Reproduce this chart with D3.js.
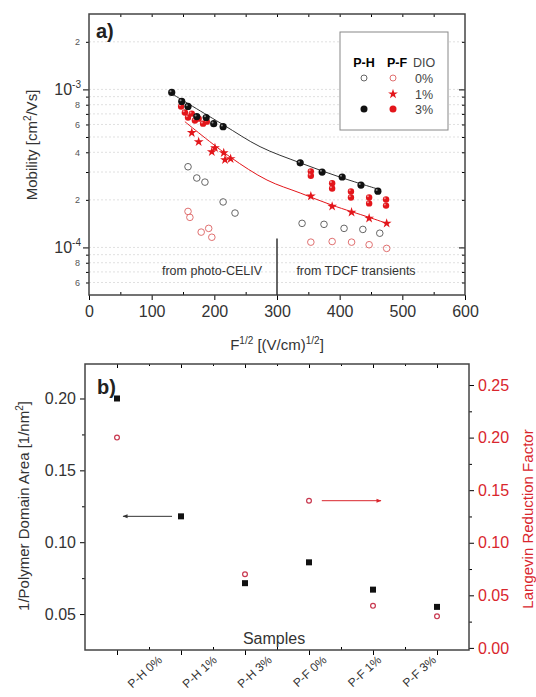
<!DOCTYPE html>
<html>
<head>
<meta charset="utf-8">
<title>Mobility and domain area</title>
<script src="https://cdn.jsdelivr.net/npm/d3@7"></script>
<style>
body{margin:0;background:#fff}
text{font-family:"Liberation Sans",Arial,sans-serif}
</style>
</head>
<body>
<script>
// ---- panel a data: F^1/2 [(V/cm)^1/2] and mobility [cm2/Vs]
let phH3F  = [132,148,158,172,187,199,214,337,372,404,434,461]
let phH3Mu = [9.57e-4,8.39e-4,7.8e-4,6.73e-4,6.64e-4,6.07e-4,5.81e-4,3.43e-4,3.0e-4,2.79e-4,2.48e-4,2.27e-4]
let pF3F   = [147,153,158,164,169,175,182,188,354,354,388,388,418,418,447,447,474,474]
let pF3Mu  = [7.8e-4,7.14e-4,6.64e-4,7.03e-4,6.35e-4,6.53e-4,6.07e-4,6.25e-4,3.03e-4,2.84e-4,2.55e-4,2.36e-4,2.26e-4,2.07e-4,2.07e-4,1.9e-4,2.01e-4,1.84e-4]
let pF1F   = [164,175,196,201,215,217,226,354,388,419,447,475]
let pF1Mu  = [5.32e-4,4.66e-4,4.03e-4,4.27e-4,3.97e-4,3.58e-4,3.64e-4,2.11e-4,1.82e-4,1.67e-4,1.53e-4,1.42e-4]
let pH0F   = [158,172,185,214,233,340,375,407,437,464]
let pH0Mu  = [3.24e-4,2.75e-4,2.59e-4,1.94e-4,1.65e-4,1.42e-4,1.40e-4,1.32e-4,1.30e-4,1.23e-4]
let pF0F   = [158,161,179,191,196,354,388,419,447,475]
let pF0Mu  = [1.69e-4,1.55e-4,1.25e-4,1.32e-4,1.16e-4,1.08e-4,1.09e-4,1.08e-4,1.04e-4,0.986e-4]
// fit curves
let fitHF  = [134,214,273,337,400,461]
let fitHMu = [9.29e-4,5.98e-4,4.34e-4,3.43e-4,2.79e-4,2.34e-4]
let fitFF  = [153,225,284,337,388,447,475]
let fitFMu = [6.25e-4,3.74e-4,2.67e-4,2.21e-4,1.85e-4,1.55e-4,1.42e-4]
let xTicksA = [0,100,200,300,400,500,600]
let logTicks = [6e-5,7e-5,8e-5,9e-5,1e-4,2e-4,3e-4,4e-4,5e-4,6e-4,7e-4,8e-4,9e-4,1e-3,2e-3]

// ---- panel b data
let samples   = ["P-H 0%","P-H 1%","P-H 3%","P-F 0%","P-F 1%","P-F 3%"]
let sampleX   = [1,3,5,7,9,11]
let invArea   = [0.200,0.118,0.0715,0.086,0.067,0.055]
let langevinS = ["P-H 0%","P-H 3%","P-F 0%","P-F 1%","P-F 3%"]
let langevin  = [0.200,0.070,0.140,0.040,0.030]
let leftTicksB  = [0.05,0.10,0.15,0.20]
let rightTicksB = [0.00,0.05,0.10,0.15,0.20,0.25]

let w = 536, h = 697
let svg = d3.select("body").append("svg").attr("width",w).attr("height",h)

// ================= panel a =================
let xA = d3.scaleLinear().domain([0,600]).range([89,465])
let yA = d3.scaleLog().domain([5e-5,3e-3]).range([295,14])
let red = "#e3161b"

// grid
svg.selectAll("line.grid").data(logTicks).enter().append("line")
    .attr("x1",xA(0)).attr("x2",xA(600))
    .attr("y1",d=>yA(d)).attr("y2",d=>yA(d))
    .attr("stroke","#e0e0e0").attr("stroke-dasharray","2,2")

// axes
let gxA = svg.append("g").attr("transform","translate(0,295)")
    .call(d3.axisBottom(xA).tickValues(xTicksA).tickSize(5).tickPadding(6))
gxA.selectAll("text").attr("font-size",16).attr("fill","#333")
svg.append("g").attr("transform","translate(0,295)")
    .call(d3.axisBottom(xA).tickValues([50,150,250,350,450,550]).tickSize(-3).tickFormat(""))
svg.append("g").attr("transform","translate(0,14)")
    .call(d3.axisTop(xA).tickValues(d3.range(50,600,50)).tickSize(-3).tickFormat(""))

let gyA = svg.append("g").attr("transform","translate(89,0)")
    .call(d3.axisLeft(yA).tickValues(logTicks)
        .tickFormat(d=>{
            let m = Math.round(d/Math.pow(10,Math.floor(Math.log10(d)+1e-9)))
            return (m==2||m==4||m==6||m==8) ? m : ""
        }).tickPadding(3))
gyA.selectAll(".tick line").attr("x2",d=>(d==1e-3||d==1e-4)?-6:-3)
gyA.selectAll("text").attr("font-size",9).attr("fill","#555")
;[1e-3,1e-4].forEach(v=>{
    let t = svg.append("text").attr("x",81).attr("y",yA(v)+6)
        .attr("text-anchor","end").attr("font-size",16).attr("fill","#333")
    t.append("tspan").text("10")
    t.append("tspan").attr("font-size",10).attr("dy",-7).text(v==1e-3?"-3":"-4")
})
svg.append("g").attr("transform","translate(465,0)")
    .call(d3.axisRight(yA).tickValues(logTicks).tickSize(-3).tickFormat(""))
    .selectAll(".tick line").attr("x2",d=>(d==1e-3||d==1e-4)?-6:-3)
svg.selectAll(".domain").remove()
svg.append("rect").attr("x",89).attr("y",14).attr("width",376).attr("height",281)
    .attr("fill","none").attr("stroke","#444").attr("stroke-width",1.5)

// labels
svg.append("text").attr("transform","translate(37,145) rotate(-90)")
    .attr("text-anchor","middle").attr("font-size",15).attr("fill","#333")
    .html('Mobility [cm<tspan dy="-6" font-size="10">2</tspan><tspan dy="6">/Vs]</tspan>')
svg.append("text").attr("x",277).attr("y",350).attr("text-anchor","middle")
    .attr("font-size",15).attr("fill","#333")
    .html('F<tspan dy="-6" font-size="10">1/2</tspan><tspan dy="6"> [(V/cm)</tspan><tspan dy="-6" font-size="10">1/2</tspan><tspan dy="6">]</tspan>')
svg.append("text").attr("x",96).attr("y",38).attr("font-size",20)
    .attr("font-weight","bold").attr("fill","#222").text("a)")

// divider and region labels
svg.append("line").attr("x1",xA(300)).attr("x2",xA(300))
    .attr("y1",yA(1.14e-4)).attr("y2",yA(5e-5)).attr("stroke","#333").attr("stroke-width",1.5)
svg.append("text").attr("x",212).attr("y",275).attr("text-anchor","middle")
    .attr("font-size",12.5).attr("fill","#333").text("from photo-CELIV")
svg.append("text").attr("x",356).attr("y",275).attr("text-anchor","middle")
    .attr("font-size",12.5).attr("fill","#333").text("from TDCF transients")

// fit lines
let lineA = d3.line().curve(d3.curveCatmullRom).x(d=>xA(d[0])).y(d=>yA(d[1]))
svg.append("path").attr("d",lineA(d3.zip(fitHF,fitHMu)))
    .attr("fill","none").attr("stroke","#333").attr("stroke-width",1)
svg.append("path").attr("d",lineA(d3.zip(fitFF,fitFMu)))
    .attr("fill","none").attr("stroke",red).attr("stroke-width",1)

// marker helpers
function openCircles(F,M,col){
    svg.append("g").selectAll("circle").data(d3.zip(F,M)).enter().append("circle")
        .attr("cx",d=>xA(d[0])).attr("cy",d=>yA(d[1])).attr("r",3.3)
        .attr("fill","none").attr("stroke",col).attr("stroke-width",1)
}
function balls(F,M,col,r){
    let g = svg.append("g").selectAll("g").data(d3.zip(F,M)).enter().append("g")
        .attr("transform",d=>"translate("+xA(d[0])+","+yA(d[1])+")")
    g.append("circle").attr("r",r).attr("fill",col)
    g.append("circle").attr("r",1).attr("cx",-1.2).attr("cy",-1.2).attr("fill","#fff").attr("opacity",0.5)
}
let star = d3.symbol(d3.symbolStar).size(30)
function stars(F,M){
    svg.append("g").selectAll("path").data(d3.zip(F,M)).enter().append("path")
        .attr("d",star).attr("fill",red)
        .attr("transform",d=>"translate("+xA(d[0])+","+yA(d[1])+")")
}
openCircles(pH0F,pH0Mu,"#666")
openCircles(pF0F,pF0Mu,"#e07070")
stars(pF1F,pF1Mu)
balls(pF3F,pF3Mu,red,3.2)
balls(phH3F,phH3Mu,"#111",3.6)

// legend
svg.append("rect").attr("x",340).attr("y",32).attr("width",108).attr("height",98)
    .attr("fill","#fff").attr("stroke","#888").attr("stroke-width",1)
let lg = svg.append("g")
lg.append("text").attr("x",364).attr("y",67).attr("text-anchor","middle")
    .attr("font-size",12.5).attr("font-weight","bold").text("P-H")
lg.append("text").attr("x",397).attr("y",67).attr("text-anchor","middle")
    .attr("font-size",12.5).attr("font-weight","bold").text("P-F")
lg.append("text").attr("x",424).attr("y",67).attr("text-anchor","middle")
    .attr("font-size",12.5).attr("fill","#444").text("DIO")
;["0%","1%","3%"].forEach((t,i)=>{
    lg.append("text").attr("x",415).attr("y",[83,99,114][i])
        .attr("font-size",12.5).attr("fill","#444").text(t)
})
lg.append("circle").attr("cx",364).attr("cy",78).attr("r",3).attr("fill","none").attr("stroke","#666")
lg.append("circle").attr("cx",393).attr("cy",78).attr("r",3).attr("fill","none").attr("stroke","#e07070")
lg.append("path").attr("d",star).attr("fill",red).attr("transform","translate(393,94)")
lg.append("circle").attr("cx",364).attr("cy",109).attr("r",3.5).attr("fill","#111")
lg.append("circle").attr("cx",393).attr("cy",109).attr("r",3.5).attr("fill",red)

// ================= panel b =================
let xB  = d3.scaleLinear().domain([0,12]).range([85,469])
let yBL = d3.scaleLinear().domain([0.025,0.224]).range([650,364])
let yBR = d3.scaleLinear().domain([-0.002,0.27]).range([650,364])
let redB = "#d9262d"

let gl = svg.append("g").attr("transform","translate(85,0)")
    .call(d3.axisLeft(yBL).tickValues(leftTicksB).tickFormat(d3.format(".2f")).tickSize(5).tickPadding(4))
gl.selectAll("text").attr("font-size",16).attr("fill","#333")
svg.append("g").attr("transform","translate(85,0)")
    .call(d3.axisLeft(yBL).tickValues([0.075,0.125,0.175]).tickSize(3).tickFormat(""))
let gr = svg.append("g").attr("transform","translate(469,0)")
    .call(d3.axisRight(yBR).tickValues(rightTicksB).tickFormat(d3.format(".2f")).tickSize(5).tickPadding(4))
gr.selectAll("text").attr("font-size",16).attr("fill",redB)
svg.append("g").attr("transform","translate(469,0)")
    .call(d3.axisRight(yBR).tickValues([0.025,0.075,0.125,0.175,0.225]).tickSize(3).tickFormat(""))
svg.append("g").attr("transform","translate(0,650)")
    .call(d3.axisBottom(xB).tickValues(sampleX).tickSize(5).tickFormat(""))
svg.append("g").attr("transform","translate(0,650)")
    .call(d3.axisBottom(xB).tickValues([2,4,6,8,10]).tickSize(-3).tickFormat(""))
svg.append("g").attr("transform","translate(0,364)")
    .call(d3.axisTop(xB).tickValues(sampleX).tickSize(-4).tickFormat(""))
svg.append("g").attr("transform","translate(0,364)")
    .call(d3.axisTop(xB).tickValues([2,4,6,8,10]).tickSize(-2).tickFormat(""))
svg.selectAll(".domain").remove()
svg.append("rect").attr("x",85).attr("y",364).attr("width",384).attr("height",286)
    .attr("fill","none").attr("stroke","#444").attr("stroke-width",1.5)

// rotated sample labels
let labelX = d3.scalePoint().domain(samples).range([163,437])
svg.append("g").selectAll("text").data(samples).enter().append("text")
    .attr("transform",d=>"translate("+labelX(d)+",661) rotate(-42)")
    .attr("text-anchor","end").attr("font-size",12).attr("fill","#333").text(d=>d)

svg.append("text").attr("x",274).attr("y",644).attr("text-anchor","middle")
    .attr("font-size",16).attr("fill","#333").text("Samples")
svg.append("text").attr("x",97).attr("y",394).attr("font-size",20)
    .attr("font-weight","bold").attr("fill","#222").text("b)")
svg.append("text").attr("transform","translate(29,506) rotate(-90)")
    .attr("text-anchor","middle").attr("font-size",15).attr("fill","#333")
    .html('1/Polymer Domain Area [1/nm<tspan dy="-6" font-size="10">2</tspan><tspan dy="6">]</tspan>')
svg.append("text").attr("transform","translate(533,519) rotate(-90)")
    .attr("text-anchor","middle").attr("font-size",15).attr("fill",redB)
    .text("Langevin Reduction Factor")

// markers
let xOf = d3.scaleOrdinal().domain(samples).range(sampleX)
svg.append("g").selectAll("rect").data(d3.zip(samples,invArea)).enter().append("rect")
    .attr("x",d=>xB(xOf(d[0]))-3).attr("y",d=>yBL(d[1])-3)
    .attr("width",6).attr("height",6).attr("fill","#111")
svg.append("g").selectAll("circle").data(d3.zip(langevinS,langevin)).enter().append("circle")
    .attr("cx",d=>xB(xOf(d[0]))).attr("cy",d=>yBR(d[1])).attr("r",2.4)
    .attr("fill","none").attr("stroke","#c8384f").attr("stroke-width",1.2)

// arrows
let defs = svg.append("defs")
;[["ah-k","#333"],["ah-r",redB]].forEach(a=>{
    defs.append("marker").attr("id",a[0]).attr("viewBox","0 0 10 10")
        .attr("refX",9).attr("refY",5).attr("markerWidth",7).attr("markerHeight",5)
        .attr("orient","auto").append("path").attr("d","M0,1L10,5L0,9Z").attr("fill",a[1])
})
svg.append("line").attr("x1",xB(2.72)).attr("x2",xB(1.19))
    .attr("y1",yBL(0.118)).attr("y2",yBL(0.118))
    .attr("stroke","#333").attr("stroke-width",1).attr("marker-end","url(#ah-k)")
svg.append("line").attr("x1",xB(7.4)).attr("x2",xB(9.25))
    .attr("y1",yBR(0.14)).attr("y2",yBR(0.14))
    .attr("stroke",redB).attr("stroke-width",1).attr("marker-end","url(#ah-r)")
</script>
</body>
</html>
